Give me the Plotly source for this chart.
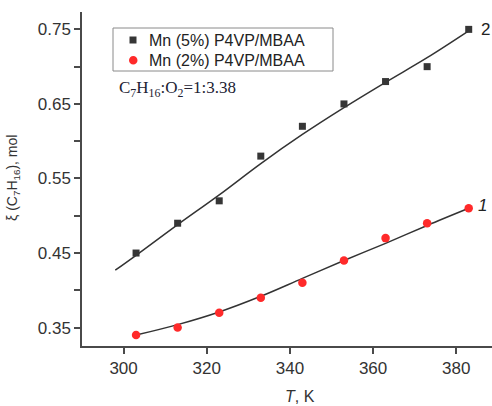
import plotly.graph_objects as go

# Data
T = [303, 313, 323, 333, 343, 353, 363, 373, 383]
xi_5 = [0.45, 0.49, 0.52, 0.58, 0.62, 0.65, 0.68, 0.70, 0.75]   # Mn (5%) P4VP/MBAA, curve 2
xi_2 = [0.34, 0.35, 0.37, 0.39, 0.41, 0.44, 0.47, 0.49, 0.51]   # Mn (2%) P4VP/MBAA, curve 1

fit2_T = [298, 303, 313, 323, 333, 343, 353, 363, 373, 383]
fit2_y = [0.427, 0.447, 0.488, 0.528, 0.570, 0.609, 0.645, 0.679, 0.712, 0.748]
fit1_T = [303, 313, 323, 333, 343, 353, 363, 373, 383]
fit1_y = [0.340, 0.354, 0.371, 0.392, 0.416, 0.440, 0.463, 0.487, 0.510]

x_ticks = [300, 320, 340, 360, 380]
y_ticks = [0.35, 0.45, 0.55, 0.65, 0.75]
y_minor = [0.40, 0.50, 0.60, 0.70]

legend_names = ["Mn (5%) P4VP/MBAA", "Mn (2%) P4VP/MBAA"]

FONT = "Liberation Sans, Arial, sans-serif"
AX = "#4a4a4a"
SQ_COLOR = "#363636"
RED = "#ff2a2a"

W, H = 492, 406
L, R, TOP, B = 82, 0, 12, 60
pw = W - L - R
ph = H - TOP - B

def sx(xs):  # window pixel x -> paper
    return (xs - L) / pw

def sy(ys):  # window pixel y -> paper
    return (H - B - ys) / ph

fig = go.Figure()
fig.add_trace(go.Scatter(x=fit2_T, y=fit2_y, mode="lines", line=dict(color="#333333", width=1.5, shape="spline"),
                         showlegend=False, hoverinfo="skip"))
fig.add_trace(go.Scatter(x=fit1_T, y=fit1_y, mode="lines", line=dict(color="#333333", width=1.5, shape="spline"),
                         showlegend=False, hoverinfo="skip"))
fig.add_trace(go.Scatter(x=T, y=xi_5, mode="markers", name=legend_names[0], showlegend=False,
                         marker=dict(symbol="square", size=7, color=SQ_COLOR)))
fig.add_trace(go.Scatter(x=T, y=xi_2, mode="markers", name=legend_names[1], showlegend=False,
                         marker=dict(symbol="circle", size=8.5, color=RED)))

fig.update_layout(
    width=W, height=H,
    margin=dict(l=L, r=R, t=TOP, b=B, autoexpand=False),
    paper_bgcolor="white", plot_bgcolor="white",
    font=dict(family=FONT, color="#333333"),
    showlegend=False,
    xaxis=dict(range=[290, 388.6], tickvals=x_ticks, ticks="outside", ticklen=6, tickwidth=1.5,
               tickcolor=AX, showline=True, linecolor=AX, linewidth=1.5, showgrid=False, zeroline=False,
               tickfont=dict(size=17, color="#333333")),
    yaxis=dict(range=[0.3253, 0.7733], tickvals=y_ticks, ticktext=["0.35", "0.45", "0.55", "0.65", "0.75"],
               ticks="outside", ticklen=6, tickwidth=1.5,
               tickcolor=AX, showline=True, linecolor=AX, linewidth=1.5, showgrid=False, zeroline=False,
               tickfont=dict(size=17, color="#333333"),
               minor=dict(tickvals=y_minor, ticks="outside", ticklen=6, tickwidth=1.5, tickcolor=AX)),
)

# manual legend box
fig.add_shape(type="rect", xref="paper", yref="paper", x0=sx(113), x1=sx(333), y0=sy(71), y1=sy(28),
              line=dict(color="#8a8a8a", width=1), fillcolor="white", layer="below")
fig.add_shape(type="rect", xref="paper", yref="paper", x0=sx(129.5), x1=sx(136.5), y0=sy(43.5), y1=sy(36.5),
              line=dict(width=0), fillcolor=SQ_COLOR)
fig.add_shape(type="circle", xref="paper", yref="paper", x0=sx(129), x1=sx(137.5), y0=sy(64.5), y1=sy(56),
              line=dict(width=0), fillcolor=RED)
for name, ys in zip(legend_names, [40, 60]):
    fig.add_annotation(text=name, xref="paper", yref="paper", x=sx(147), y=sy(ys), showarrow=False,
                       xanchor="left", yanchor="middle", font=dict(size=16, color="#222222"))

fig.add_annotation(text="<i>T</i>, K", xref="paper", yref="paper", x=sx(300), y=sy(396),
                   showarrow=False, xanchor="center", yanchor="middle", font=dict(size=16, color="#333333"))
fig.add_annotation(text="ξ (C<sub>7</sub>H<sub>16</sub>), mol", xref="paper", yref="paper", x=sx(13), y=sy(178),
                   showarrow=False, textangle=-90, xanchor="center", yanchor="middle",
                   font=dict(size=14, color="#333333"))
fig.add_annotation(text="C<sub>7</sub>H<sub>16</sub>:O<sub>2</sub>=1:3.38", xref="paper", yref="paper",
                   x=sx(117), y=sy(89), showarrow=False, xanchor="left", yanchor="middle",
                   font=dict(size=17, color="#222233", family="Liberation Serif, Times New Roman, serif"))
fig.add_annotation(text="2", xref="paper", yref="paper", x=sx(485), y=sy(30), showarrow=False,
                   xanchor="center", yanchor="middle", font=dict(size=17, color="#222222"))
fig.add_annotation(text="<i>1</i>", xref="paper", yref="paper", x=sx(482), y=sy(205), showarrow=False,
                   xanchor="center", yanchor="middle", font=dict(size=17, color="#222222"))

fig.write_html("out.html", config={"displayModeBar": False},
               post_script="document.body.style.margin='0';document.body.style.overflow='hidden';")
